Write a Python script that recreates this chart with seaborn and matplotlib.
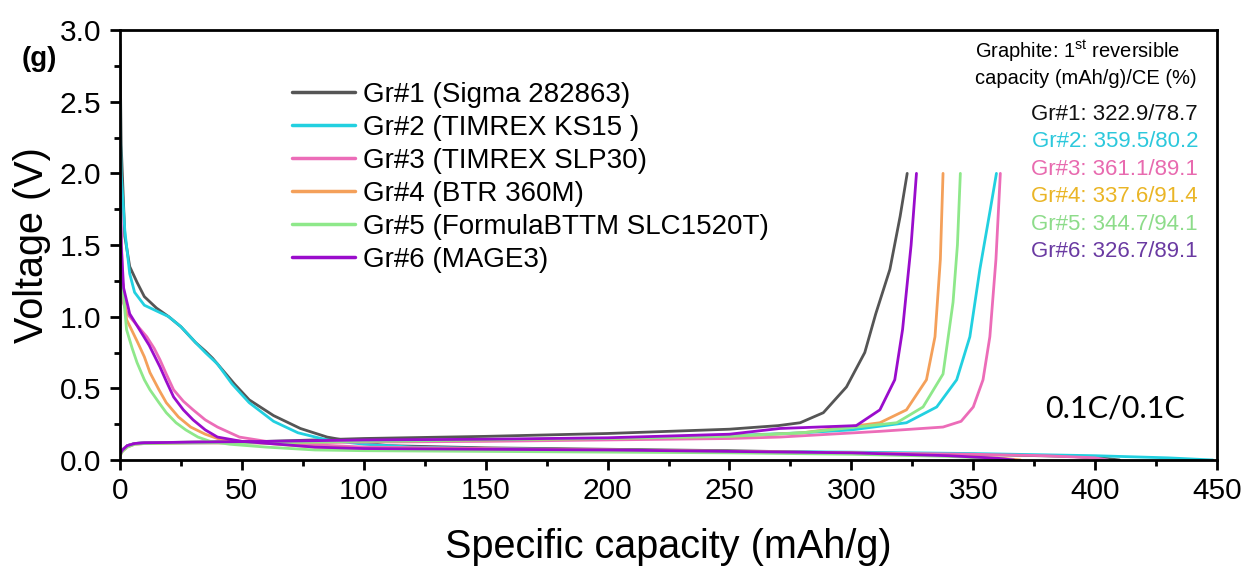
import pandas as pd
import seaborn as sns
import matplotlib.pyplot as plt
from matplotlib.ticker import MultipleLocator

sns.set_style("white")
plt.rcParams['font.family'] = ['Liberation Sans', 'DejaVu Sans']
plt.rcParams['mathtext.fontset'] = 'custom'
plt.rcParams['mathtext.rm'] = 'Liberation Sans'
for k in ['text.color', 'axes.labelcolor', 'xtick.color', 'ytick.color']:
    plt.rcParams[k] = 'black'

names = ["Gr#1 (Sigma 282863)", "Gr#2 (TIMREX KS15 )", "Gr#3 (TIMREX SLP30)",
         "Gr#4 (BTR 360M)", "Gr#5 (FormulaBTTM SLC1520T)", "Gr#6 (MAGE3)"]
line_colors = ["#555555", "#22d0e0", "#ec6cb8", "#f4a05a", "#8ee88a", "#9a0ccc"]
text_colors = ["#111111", "#2cc8dc", "#e86aaf", "#eab526", "#8ddc8a", "#6a3aa2"]
summary = ["Gr#1: 322.9/78.7", "Gr#2: 359.5/80.2", "Gr#3: 361.1/89.1",
           "Gr#4: 337.6/91.4", "Gr#5: 344.7/94.1", "Gr#6: 326.7/89.1"]

# discharge (lithiation) curves
dis1_x = [0, 0.5, 2, 4, 7, 10, 15, 20, 25, 31, 35, 38, 42, 47, 53, 63, 74, 85, 95, 110, 150, 200, 250, 300, 350, 390, 405, 410]
dis1_v = [2.90, 2.2, 1.56, 1.35, 1.24, 1.14, 1.06, 1.0, 0.93, 0.82, 0.76, 0.71, 0.63, 0.53, 0.42, 0.31, 0.22, 0.16, 0.13, 0.10, 0.085, 0.075, 0.065, 0.05, 0.04, 0.025, 0.01, 0.0]
dis2_x = [0, 0.5, 2, 4, 6, 10, 15, 20, 25, 31, 35, 40, 46, 53, 63, 73, 85, 100, 120, 150, 200, 250, 300, 350, 400, 430, 448.3]
dis2_v = [2.5, 2.0, 1.6, 1.3, 1.17, 1.08, 1.04, 1.0, 0.93, 0.82, 0.75, 0.67, 0.53, 0.40, 0.27, 0.19, 0.14, 0.11, 0.09, 0.08, 0.07, 0.06, 0.055, 0.045, 0.03, 0.015, 0.0]
dis3_x = [0, 0.5, 1.3, 3, 5.5, 8, 11, 14, 16.4, 19, 22, 26, 30, 35, 40, 49, 60, 75, 100, 150, 200, 250, 300, 350, 380, 400, 405.3]
dis3_v = [2.0, 1.6, 1.1, 1.02, 0.97, 0.92, 0.86, 0.78, 0.70, 0.60, 0.49, 0.41, 0.35, 0.28, 0.23, 0.16, 0.13, 0.11, 0.09, 0.08, 0.07, 0.06, 0.05, 0.04, 0.03, 0.015, 0.0]
dis4_x = [0, 0.5, 1.3, 2.7, 5, 7, 10, 12.3, 16, 19, 24, 29, 35, 40, 50, 65, 80, 100, 150, 200, 250, 300, 340, 362, 369.4]
dis4_v = [1.3, 1.28, 1.22, 0.98, 0.90, 0.83, 0.72, 0.61, 0.49, 0.40, 0.30, 0.23, 0.18, 0.15, 0.13, 0.11, 0.09, 0.08, 0.075, 0.07, 0.06, 0.05, 0.03, 0.012, 0.0]
dis5_x = [0, 0.5, 1.3, 2.7, 5, 7, 10, 12.3, 16, 19, 23, 27, 32, 37, 45, 60, 80, 100, 150, 200, 250, 300, 340, 360, 366.3]
dis5_v = [1.25, 1.22, 1.18, 0.91, 0.78, 0.68, 0.56, 0.49, 0.40, 0.33, 0.26, 0.21, 0.16, 0.13, 0.11, 0.09, 0.07, 0.065, 0.06, 0.055, 0.05, 0.04, 0.025, 0.01, 0.0]
dis6_x = [0, 0.5, 1.5, 4, 8, 12, 16.4, 19, 22, 26, 30, 35, 40, 50, 65, 80, 100, 150, 200, 250, 300, 340, 360, 366.7]
dis6_v = [2.0, 1.5, 1.2, 1.02, 0.91, 0.80, 0.65, 0.55, 0.44, 0.35, 0.28, 0.21, 0.16, 0.13, 0.11, 0.09, 0.08, 0.075, 0.07, 0.06, 0.05, 0.03, 0.012, 0.0]

# charge (delithiation) curves
cha1_x = [0, 1, 3, 6, 10, 30, 60, 100, 150, 200, 250, 270, 279, 288.5, 298, 305.5, 310, 315.8, 320, 322.9]
cha1_v = [0.04, 0.07, 0.10, 0.115, 0.12, 0.125, 0.13, 0.15, 0.165, 0.185, 0.215, 0.24, 0.26, 0.33, 0.51, 0.75, 1.02, 1.33, 1.70, 2.0]
cha2_x = [0, 1, 3, 6, 10, 30, 60, 100, 150, 200, 250, 280, 300, 322.6, 335, 343.2, 348.6, 352.7, 357, 359.5]
cha2_v = [0.04, 0.07, 0.10, 0.115, 0.12, 0.12, 0.125, 0.13, 0.14, 0.15, 0.17, 0.19, 0.21, 0.26, 0.37, 0.56, 0.86, 1.33, 1.75, 2.0]
cha3_x = [0, 1, 3, 6, 10, 30, 60, 100, 150, 200, 250, 270.7, 311.7, 337.6, 345, 350, 354, 356.8, 359.3, 361.1]
cha3_v = [0.04, 0.07, 0.10, 0.115, 0.12, 0.12, 0.12, 0.125, 0.13, 0.14, 0.15, 0.16, 0.20, 0.23, 0.27, 0.37, 0.56, 0.86, 1.4, 2.0]
cha4_x = [0, 1, 3, 6, 10, 30, 60, 100, 150, 200, 250, 280, 311.7, 322.6, 330.8, 334.3, 336.5, 337.6]
cha4_v = [0.03, 0.06, 0.09, 0.11, 0.115, 0.12, 0.12, 0.13, 0.14, 0.15, 0.165, 0.19, 0.26, 0.35, 0.56, 0.86, 1.4, 2.0]
cha5_x = [0, 1, 3, 6, 10, 30, 60, 100, 150, 200, 250, 280, 318.6, 329.4, 337.6, 341.7, 343.5, 344.7]
cha5_v = [0.03, 0.06, 0.09, 0.11, 0.115, 0.12, 0.12, 0.13, 0.14, 0.15, 0.165, 0.19, 0.26, 0.37, 0.6, 1.1, 1.5, 2.0]
cha6_x = [0, 1, 3, 6, 10, 30, 60, 100, 150, 200, 250, 270.7, 302, 311.7, 317.8, 321, 324.5, 326.7]
cha6_v = [0.04, 0.07, 0.10, 0.115, 0.12, 0.125, 0.13, 0.14, 0.145, 0.155, 0.18, 0.22, 0.24, 0.35, 0.56, 0.91, 1.5, 2.0]

curves = [
    (dis1_x, dis1_v, cha1_x, cha1_v), (dis2_x, dis2_v, cha2_x, cha2_v),
    (dis3_x, dis3_v, cha3_x, cha3_v), (dis4_x, dis4_v, cha4_x, cha4_v),
    (dis5_x, dis5_v, cha5_x, cha5_v), (dis6_x, dis6_v, cha6_x, cha6_v),
]

frames = []
for name, (dx, dv, cx, cv) in zip(names, curves):
    frames.append(pd.DataFrame({"cap": dx, "volt": dv, "sample": name, "branch": "dis"}))
    frames.append(pd.DataFrame({"cap": cx, "volt": cv, "sample": name, "branch": "cha"}))
df = pd.concat(frames, ignore_index=True)

fig = plt.figure(figsize=(12.47, 5.67), dpi=100)
ax = fig.add_axes([0.0962, 0.1887, 0.8798, 0.7583])

sns.lineplot(data=df, x="cap", y="volt", hue="sample", units="branch", estimator=None,
             sort=False, hue_order=names, palette=line_colors, linewidth=2, ax=ax)

ax.set_xlim(0, 450)
ax.set_ylim(0, 3.0)
ax.xaxis.set_major_locator(MultipleLocator(50))
ax.xaxis.set_minor_locator(MultipleLocator(25))
ax.yaxis.set_major_locator(MultipleLocator(0.5))
ax.yaxis.set_minor_locator(MultipleLocator(0.25))
ax.yaxis.set_major_formatter(plt.FuncFormatter(lambda v, p: f"{v:.1f}"))
ax.tick_params(which="major", direction="out", length=7.5, width=2, labelsize=21.5,
               bottom=True, left=True)
ax.tick_params(axis="y", which="major", pad=6)
ax.tick_params(axis="x", which="major", pad=4.5)
ax.tick_params(which="minor", direction="out", length=4, width=2, bottom=True, left=True)
for sp in ax.spines.values():
    sp.set_linewidth(2)
    sp.set_color("black")

ax.set_xlabel("Specific capacity (mAh/g)", fontsize=28.5, labelpad=17)
ax.set_ylabel("Voltage (V)", fontsize=28.5, labelpad=6)

leg = ax.legend(loc="upper left", bbox_to_anchor=(0.1565, 0.879), frameon=False,
                fontsize=20, handlelength=2.27, labelspacing=0.25, handletextpad=0.3,
                borderpad=0, borderaxespad=0)
for ln in leg.get_lines():
    ln.set_linewidth(2.5)

fig.text(0.0176, 0.896, "(g)", fontsize=20, fontweight="bold", va="center")
ax.text(0.7794, 0.9356, "Graphite: 1$^{\\rm st}$ reversible", transform=ax.transAxes,
        fontsize=14.5, va="baseline", ha="left")
ax.text(0.7794, 0.8751, "capacity (mAh/g)/CE (%)", transform=ax.transAxes,
        fontsize=14.5, va="baseline", ha="left")
for i, (s, c) in enumerate(zip(summary, text_colors)):
    ax.text(0.9827, 0.7914 - i * 0.064, s, transform=ax.transAxes, fontsize=16,
            color=c, ha="right", va="baseline")
ax.text(0.843, 0.100, "0.1C/0.1C", transform=ax.transAxes, fontsize=22,
        family=["Lato", "DejaVu Sans"], va="baseline", ha="left")

fig.savefig("out.png", dpi=100)
